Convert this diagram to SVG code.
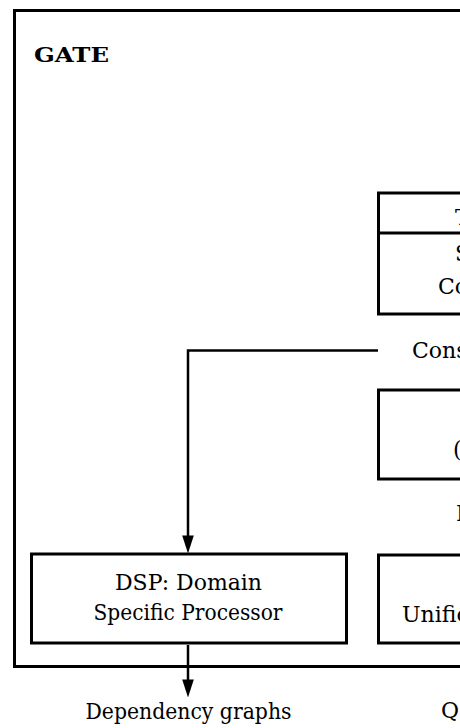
<svg xmlns="http://www.w3.org/2000/svg" width="460" height="728" viewBox="0 0 460 728">
<style>
.box{fill:none;stroke:#000;stroke-width:3}
.con{fill:none;stroke:#000;stroke-width:2.5}
.t{font-family:'DejaVu Serif',serif;font-size:22px;fill:#000}
.b{font-weight:bold;font-size:20px}
.m{text-anchor:middle}
</style>
<defs>
<marker id="ah" markerUnits="userSpaceOnUse" markerWidth="18" markerHeight="12" viewBox="0 0 17 11" refX="9" refY="5.5" orient="auto">
<path d="M0,0 L17,5.5 L0,11 z" fill="#000"/>
</marker>
</defs>
<g id="gate">
<rect class="box" x="14.5" y="10.5" width="500" height="656"/>
<text class="t b" x="34" y="62" textLength="75" lengthAdjust="spacingAndGlyphs">GATE</text>
</g>
<g id="topbox">
<rect class="box" x="378.5" y="193" width="200" height="121"/>
<line class="box" x1="378.5" y1="233" x2="480" y2="233"/>
<text class="t" x="455" y="225">T</text>
<text class="t" x="455" y="261">S</text>
<text class="t" x="438" y="294">Co</text>
</g>
<g id="cons">
<text class="t" x="412" y="358">Cons</text>
</g>
<g id="midbox">
<rect class="box" x="378.5" y="390" width="200" height="89"/>
<text class="t" x="453" y="457">(</text>
</g>
<g id="ilabel">
<text class="t" x="456" y="521">I</text>
</g>
<g id="dsp">
<rect class="box" x="31.5" y="554" width="315" height="89"/>
<text class="t m" x="188.5" y="590" textLength="147" lengthAdjust="spacingAndGlyphs">DSP: Domain</text>
<text class="t m" x="188" y="620" textLength="189" lengthAdjust="spacingAndGlyphs">Specific Processor</text>
</g>
<g id="unif">
<rect class="box" x="378.5" y="555" width="200" height="88"/>
<text class="t" x="402" y="622">Unific</text>
</g>
<g id="dep">
<text class="t m" x="188.5" y="719" textLength="206" lengthAdjust="spacingAndGlyphs">Dependency graphs</text>
</g>
<g id="q">
<text class="t" x="441" y="718">Q</text>
</g>
<g id="connectors">
<path class="con" d="M378,350.5 H188 V545" marker-end="url(#ah)"/>
<path class="con" d="M188,645 V689" marker-end="url(#ah)"/>
</g>
</svg>
